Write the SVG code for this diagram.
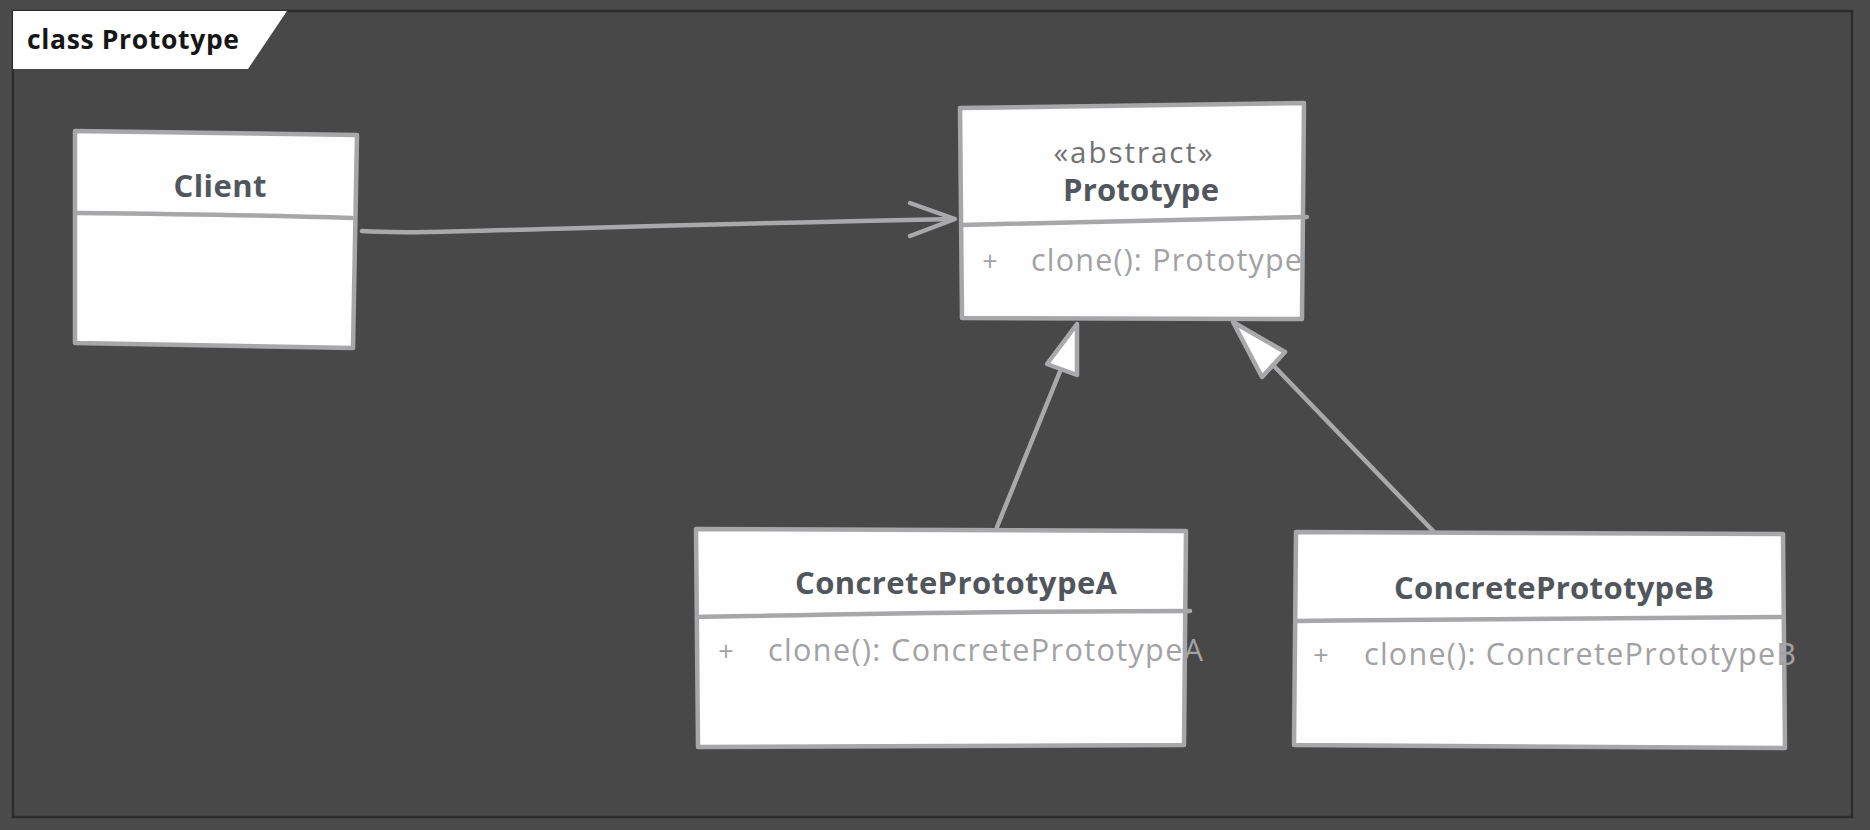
<svg xmlns="http://www.w3.org/2000/svg" width="1870" height="830" viewBox="0 0 1870 830">
<style>
.box{fill:#fefefe;stroke:#a7a7aa;stroke-width:4.5;stroke-linejoin:round}
.div{fill:none;stroke:#a7a7aa;stroke-width:4.5;stroke-linecap:round}
.title{font-family:"Open Sans","Noto Sans","Liberation Sans",sans-serif;font-weight:bold;font-size:31px;fill:#51565d;text-anchor:middle}
.stereo{font-family:"Open Sans","Noto Sans","Liberation Sans",sans-serif;font-size:29.5px;fill:#727272;text-anchor:middle}
.mem{font-family:"Open Sans","Noto Sans","Liberation Sans",sans-serif;font-size:30.5px;fill:#a2a2a4}
.plus{font-family:"Open Sans","Noto Sans","Liberation Sans",sans-serif;font-size:27px;fill:#a2a2a4;text-anchor:middle}
.line{fill:none;stroke:#a9a9ac;stroke-width:4.5;stroke-linecap:round;stroke-linejoin:round}
.tri{fill:#ffffff;stroke:#a9a9ac;stroke-width:4.5;stroke-linejoin:round}
</style>
<rect x="0" y="0" width="1870" height="830" fill="#4b4b4b"/>
<g id="frame">
<rect x="13" y="11" width="1839" height="806" fill="#484848" stroke="#2c2c2c" stroke-width="2.5"/>
<polygon points="13,11 287,11 248,69 13,69" fill="#ffffff"/>
<text x="27" y="49" font-family="Open Sans,Noto Sans,Liberation Sans,sans-serif" font-weight="bold" font-size="26.5" fill="#161616" textLength="212">class Prototype</text>
</g>
<g id="connectors">
<path class="line" d="M362,231 C420,235 520,228 954,219"/>
<path class="line" d="M910,203 L955,219 L910,236"/>
<path class="line" d="M997,527 L1061,369"/>
<polygon class="tri" points="1077,324 1047,364 1077,375"/>
<path class="line" d="M1435,533 L1272,364"/>
<polygon class="tri" points="1233,322 1262,377 1285,352"/>
</g>
<g id="client">
<path class="box" d="M75,131 L357,135 L353,348 L75,343 Z"/>
<path class="div" d="M77,213 C180,214 260,215 352,218"/>
<text class="title" x="220" y="197" textLength="93">Client</text>
</g>
<g id="prototype">
<path class="box" d="M960,108 L1304,103 L1302,319 L962,318 Z"/>
<path class="div" d="M962,225 C1080,222 1200,219 1307,217"/>
<text class="stereo" x="1133" y="163" textLength="159">«abstract»</text>
<text class="title" x="1141" y="201" textLength="156">Prototype</text>
<text class="plus" x="990" y="271">+</text>
<text class="mem" x="1031" y="271" textLength="271">clone(): Prototype</text>
</g>
<g id="concreteA">
<path class="box" d="M696,529 L1186,531 L1184,745 L698,747 Z"/>
<path class="div" d="M697,617 C850,614 1000,611 1190,611"/>
<text class="title" x="956" y="594" textLength="322">ConcretePrototypeA</text>
<text class="plus" x="726" y="661">+</text>
<text class="mem" x="768" y="661" textLength="435">clone(): ConcretePrototypeA</text>
</g>
<g id="concreteB">
<path class="box" d="M1296,532 L1783,534 L1785,748 L1294,745 Z"/>
<path class="div" d="M1297,621 C1450,619 1600,617 1783,617"/>
<text class="title" x="1554" y="599" textLength="320">ConcretePrototypeB</text>
<text class="plus" x="1321" y="665">+</text>
<text class="mem" x="1364" y="665" textLength="432">clone(): ConcretePrototypeB</text>
</g>
</svg>
